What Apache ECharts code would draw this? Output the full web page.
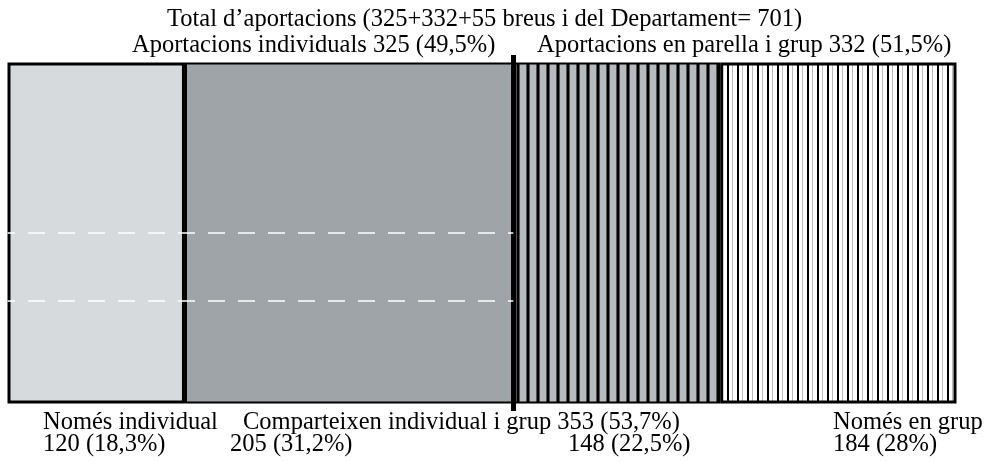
<!DOCTYPE html>
<html>
<head>
<meta charset="utf-8">
<script src="https://cdn.jsdelivr.net/npm/echarts@6/dist/echarts.min.js"></script>
<style>
  html, body { margin: 0; padding: 0; background: #fff; }
  #chart { width: 988px; height: 462px; }
</style>
</head>
<body>
<div id="chart"></div>
<script>
const titleText = 'Total d’aportacions (325+332+55 breus i del Departament= 701)';
const groupLabels = ['Aportacions individuals 325 (49,5%)', 'Aportacions en parella i grup 332 (51,5%)'];
const segmentNames = ['Només individual', 'Comparteixen individual i grup 353 (53,7%)', 'Només en grup'];
const counts = [120, 205, 148, 184];
const percents = ['18,3', '31,2', '22,5', '28'];
// amplada de cada tram tal com surt a la figura (no és proporcional als recomptes)
const shares = [18.7, 34.6, 21.8, 24.9];
// línies discontínues blanques (escala 0-100 de l'alçada)
const guideLevels = [50, 31];

const FONT = '24.5px "Liberation Serif", "Times New Roman", serif';

function stripes(bg, lines) {
  const c = document.createElement('canvas');
  c.width = 10;
  c.height = 10;
  const ctx = c.getContext('2d');
  ctx.fillStyle = bg;
  ctx.fillRect(0, 0, 10, 10);
  lines.forEach((l) => {
    ctx.fillStyle = l.color;
    ctx.fillRect(l.x, 0, l.w, 10);
  });
  return { image: c, repeat: 'repeat' };
}

const fills = [
  '#d6dadd',
  '#9ea4a7',
  stripes('#b5bbbe', [{ x: 6, w: 1, color: '#555' }, { x: 7, w: 2, color: '#000' }, { x: 9, w: 1, color: '#555' }]),
  stripes('#ffffff', [{ x: 2, w: 1, color: '#bbb' }, { x: 7, w: 2, color: '#000' }]),
];
const borders = [3, 2, 2, 3];

function textEl(str, x, baseline) {
  return {
    type: 'text',
    x: x,
    y: baseline - 8.3,
    silent: true,
    style: { text: str, font: FONT, fill: '#000', align: 'left', verticalAlign: 'middle' },
  };
}

function getOption() {
  const cut = shares[0] + shares[1];

  const series = shares.map((v, i) => ({
    type: 'bar',
    stack: 'total',
    barWidth: 341,
    silent: true,
    data: [v],
    itemStyle: { color: fills[i], borderColor: '#000', borderWidth: borders[i] },
  }));

  // línia gruixuda entre individuals i grup + guies discontínues
  series.push({
    type: 'line',
    xAxisIndex: 0,
    yAxisIndex: 1,
    data: [],
    silent: true,
    markLine: {
      silent: true,
      symbol: 'none',
      label: { show: false },
      animation: false,
      data: [
        { xAxis: cut, lineStyle: { color: '#000', width: 5, type: 'solid' } },
        ...guideLevels.map((g) => [
          { coord: [0, g], lineStyle: { color: '#fff', width: 1.5, type: [17, 13], dashOffset: 9.5 } },
          { coord: [cut, g] },
        ]),
      ],
    },
  });

  const graphic = [
    textEl(titleText, 167, 28),
    textEl(groupLabels[0], 132, 54),
    textEl(groupLabels[1], 537, 54),
    textEl(segmentNames[0], 43, 431),
    textEl(segmentNames[1], 243, 431),
    textEl(segmentNames[2], 833, 431),
    textEl(`${counts[0]} (${percents[0]}%)`, 43, 453),
    textEl(`${counts[1]} (${percents[1]}%)`, 230, 453),
    textEl(`${counts[2]} (${percents[2]}%)`, 568, 453),
    textEl(`${counts[3]} (${percents[3]}%)`, 833, 453),
  ];

  return {
    animation: false,
    backgroundColor: '#fff',
    grid: { left: 7.5, right: 31.5, top: 55, bottom: 51 },
    xAxis: { type: 'value', min: 0, max: 100, show: false },
    yAxis: [
      { type: 'category', data: ['total'], show: false },
      { type: 'value', min: 0, max: 100, show: false },
    ],
    series: series,
    graphic: graphic,
  };
}

const chart = echarts.init(document.getElementById('chart'));
chart.setOption(getOption());
</script>
</body>
</html>
